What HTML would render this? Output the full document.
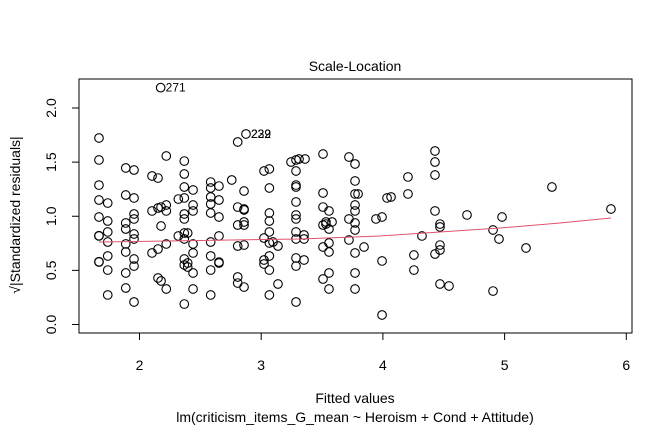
<!DOCTYPE html>
<html><head><meta charset="utf-8"><style>
body{margin:0;background:#fff}
svg text{font-family:"Liberation Sans",Arial,sans-serif;fill:#000}
</style></head><body>
<svg id="chart" width="672" height="432" viewBox="0 0 672 432" xmlns="http://www.w3.org/2000/svg">
<rect x="79" y="79" width="553" height="254" fill="none" stroke="#000" stroke-width="1"/>
<text x="355" y="71" font-size="14" text-anchor="middle">Scale-Location</text>
<text x="355" y="403" font-size="14" text-anchor="middle">Fitted values</text>
<text x="355" y="422" font-size="14" text-anchor="middle">lm(criticism_items_G_mean ~ Heroism + Cond + Attitude)</text>
<text transform="translate(20,215) rotate(-90)" font-size="14" text-anchor="middle">√|Standardized residuals|</text>
<g id="xaxis"></g>
<g id="yaxis"></g>
<g id="pts"></g>
<g id="smooth"></g>
<g id="labels"></g>
</svg>
<script>
const xTicks=[2,3,4,5,6];
const yTicks=[0.0,0.5,1.0,1.5,2.0];
const yTickLabels=["0.0","0.5","1.0","1.5","2.0"];
const colX=[1.667,1.739,1.887,1.955,2.103,2.152,2.177,2.220,2.319,2.368,2.396,2.440,2.585,2.653,2.758,2.807,2.859,2.875,3.023,3.067,3.097,3.138,3.245,3.286,3.311,3.360,3.352,3.508,3.532,3.557,3.582,3.721,3.771,3.796,3.845,3.943,3.993,4.034,4.067,4.206,4.255,4.321,4.428,4.469,4.543,4.691,4.905,4.954,4.979,5.176,5.389,5.874];
const colY=[
[1.723,1.520,1.288,1.150,0.993,0.818,0.577,0.820,0.580],
[1.122,0.956,0.855,0.762,0.633,0.503,0.273],
[1.446,1.196,0.938,0.882,0.744,0.670,0.476,0.337],
[1.427,1.169,1.021,0.975,0.836,0.790,0.605,0.540,0.208],
[1.372,1.049,0.661],
[1.353,1.076,0.697,0.430],
[1.085,0.910,0.402],
[1.557,1.104,1.049,0.744,0.328],
[1.159,0.818],
[1.510,1.390,1.270,1.169,1.021,0.975,0.845,0.790,0.605,0.550,0.189],
[0.845,0.568,0.531],
[1.243,1.104,1.049,0.744,0.661,0.476,0.328],
[1.316,1.261,1.178,1.113,1.030,0.762,0.633,0.503,0.273],
[1.279,1.150,0.993,0.818,0.577,0.568],
[1.335],
[1.686,1.085,0.919,0.725,0.439,0.383],
[1.233,1.067,1.058,0.947,0.919,0.734,0.346],
[1.760],
[1.418,0.799,0.596,0.559],
[1.437,1.261,1.030,0.956,0.855,0.753,0.633,0.503,0.273],
[0.762],
[0.725,0.374],
[1.501],
[1.520,1.418,1.288,1.270,1.132,1.012,0.975,0.855,0.790,0.614,0.540,0.208],
[1.529],
[1.529],
[0.827,0.790,0.596],
[1.575,1.215,1.085,0.919,0.716,0.420],
[0.928,0.947],
[1.049,0.882,0.753,0.670,0.476,0.328],
[0.947],
[1.547,0.975,0.781],
[1.483,1.326,1.206,1.104,1.049,0.938,0.873,0.661,0.476,0.328],
[1.206],
[0.716],
[0.975],
[0.993,0.587,0.088],
[1.169],
[1.178],
[1.363,1.206],
[0.642,0.503],
[0.818],
[1.603,1.501,1.381,1.049,0.651],
[0.928,0.901,0.734,0.688,0.374],
[0.356],
[1.012],
[0.873,0.309],
[0.790],
[0.993],
[0.707],
[1.270],
[1.067]];
const outX=[2.174];
const outY=[2.188];
const labelX=[2.174,2.875];
const labelY=[2.188,1.760];
const labelText=["271","229"];
const labelText2=["","232"];
const smoothX=[1.667,2.497,3.319,3.976,4.469,4.962,5.455,5.874];
const smoothY=[0.762,0.776,0.790,0.818,0.855,0.891,0.938,0.984];

const NS="http://www.w3.org/2000/svg";
function sx(v){return 139.5+(v-2)*121.7;}
function sy(v){return 324.5-v*108.25;}
function mk(t,a,p){const e=document.createElementNS(NS,t);for(const k in a)e.setAttribute(k,a[k]);p.appendChild(e);return e;}
const xa=document.getElementById('xaxis'),ya=document.getElementById('yaxis');
mk('line',{x1:sx(2),x2:sx(6),y1:333,y2:333,stroke:'#000'},xa);
xTicks.forEach(v=>{
 const l=mk('line',{x1:sx(v),x2:sx(v),y1:333,y2:340,stroke:'#000'},xa);
 
 
 const t=mk('text',{x:sx(v),y:370,'font-size':14,'text-anchor':'middle'},xa);t.textContent=v;
 
 
});
mk('line',{x1:79,x2:79,y1:sy(0),y2:sy(2),stroke:'#000'},ya);
yTicks.forEach((v,i)=>{
 const l=mk('line',{x1:72,x2:79,y1:sy(v),y2:sy(v),stroke:'#000'},ya);
 
 
 const t=mk('text',{transform:`translate(56,${sy(v)}) rotate(-90)`,'font-size':14,'text-anchor':'middle'},ya);t.textContent=yTickLabels[i];
 
 
});
const pg=document.getElementById('pts');
colX.forEach((x,i)=>colY[i].forEach(y=>{
 const c=mk('circle',{cx:sx(x),cy:sy(y),r:4.3,fill:'none',stroke:'#000','stroke-width':1.1},pg);
 
 
}));
outX.forEach((x,i)=>{
 const c=mk('circle',{cx:sx(x),cy:sy(outY[i]),r:4.3,fill:'none',stroke:'#000','stroke-width':1.1},pg);
 
 
});
const sm=document.getElementById('smooth');
const p=mk('polyline',{points:smoothX.map((x,i)=>sx(x)+','+sy(smoothY[i])).join(' '),fill:'none',stroke:'#DF536B','stroke-width':1},sm);


const lg=document.getElementById('labels');
labelX.forEach((x,i)=>{
 const t=mk('text',{x:sx(x)+5,y:sy(labelY[i])+4,'font-size':12},lg);t.textContent=labelText[i];
 
 
 if(labelText2[i]){const t2=mk('text',{x:sx(x)+5,y:sy(labelY[i])+4,'font-size':12},lg);t2.textContent=labelText2[i];
 
 }
});
</script>
</body></html>
